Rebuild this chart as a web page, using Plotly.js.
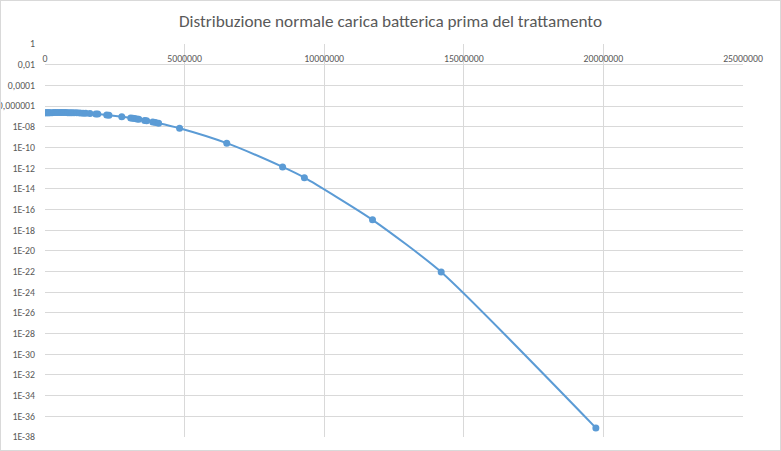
<!DOCTYPE html>
<html>
<head>
<meta charset="utf-8">
<script src="https://cdn.plot.ly/plotly-3.0.1.min.js"></script>
<style>
html,body{margin:0;padding:0;background:#fff;}
#chart{width:779px;height:449px;border:1px solid #d9d9d9;}
</style>
</head>
<body>
<div id="chart"></div>
<script>
// Carica batterica (x) and normal density (y)
const caricaX = [0, 36000, 71000, 107000, 143000, 179000, 250000, 320000, 390000, 460000,
  540000, 610000, 680000, 750000, 820000, 890000, 960000, 1040000, 1140000, 1250000,
  1360000, 1460000, 1610000, 1820000, 1890000, 2210000, 2290000, 2750000, 3070000, 3140000,
  3210000, 3290000, 3360000, 3570000, 3640000, 3860000, 3960000, 4070000,
  4820000, 6510000, 8510000, 9290000, 11730000, 14190000, 19730000];
const densita = [2.21e-7, 2.23e-7, 2.24e-7, 2.26e-7, 2.27e-7, 2.29e-7, 2.31e-7, 2.32e-7, 2.33e-7, 2.34e-7,
  2.34e-7, 2.34e-7, 2.34e-7, 2.33e-7, 2.31e-7, 2.29e-7, 2.27e-7, 2.24e-7, 2.19e-7, 2.13e-7,
  2.07e-7, 2.0e-7, 1.89e-7, 1.72e-7, 1.66e-7, 1.39e-7, 1.32e-7, 9.3e-8, 7.0e-8, 6.5e-8,
  6.1e-8, 5.6e-8, 5.2e-8, 4.1e-8, 3.8e-8, 2.9e-8, 2.5e-8, 2.2e-8,
  7.2e-9, 2.6e-10, 1.3e-12, 1.2e-13, 1.0e-17, 8.9e-23, 7.6e-38];

const xTickVals = [0, 5000000, 10000000, 15000000, 20000000, 25000000];
const xTickText = ['0', '5000000', '10000000', '15000000', '20000000', '25000000'];
const yTickVals = [1, 1e-2, 1e-4, 1e-6, 1e-8, 1e-10, 1e-12, 1e-14, 1e-16, 1e-18, 1e-20,
  1e-22, 1e-24, 1e-26, 1e-28, 1e-30, 1e-32, 1e-34, 1e-36, 1e-38];
const yTickText = ['1', '0,01', '0,0001', '0,000001', '1E-08', '1E-10', '1E-12', '1E-14', '1E-16',
  '1E-18', '1E-20', '1E-22', '1E-24', '1E-26', '1E-28', '1E-30', '1E-32', '1E-34', '1E-36', '1E-38'];
const titolo = 'Distribuzione normale carica batterica prima del trattamento';

const blue = '#5b9bd5';
const grid = '#d9d9d9';
const txt = '#595959';
const fam = "Calibri, Carlito, 'Open Sans', sans-serif";

const trace = {
  x: caricaX, y: densita, type: 'scatter', mode: 'lines+markers',
  line: {color: blue, width: 2, shape: 'spline', smoothing: 0.6},
  marker: {color: blue, size: 7},
  hoverinfo: 'x+y'
};

const layout = {
  width: 779, height: 449,
  margin: {l: 44, r: 37, t: 43, b: 13},
  paper_bgcolor: '#fff', plot_bgcolor: '#fff',
  showlegend: false,
  title: {text: titolo, font: {family: fam, size: 17.2, color: txt}, x: 0.5, xanchor: 'center', y: 0.955, yanchor: 'middle'},
  xaxis: {
    range: [0, 25000000], tickmode: 'array', tickvals: xTickVals, ticktext: xTickText,
    showgrid: true, gridcolor: grid, gridwidth: 1, zeroline: false, showline: false,
    anchor: 'free', position: 1, side: 'bottom',
    ticks: 'outside', ticklen: 5, tickcolor: 'rgba(0,0,0,0)',
    tickfont: {family: fam, size: 9.8, color: txt}
  },
  yaxis: {
    type: 'log', range: [-38, 0], tickmode: 'array', tickvals: yTickVals, ticktext: yTickText,
    showgrid: true, gridcolor: grid, gridwidth: 1, zeroline: false, showline: false,
    ticks: 'outside', ticklen: 7, tickcolor: 'rgba(0,0,0,0)',
    tickfont: {family: fam, size: 9.8, color: txt}
  }
};

Plotly.newPlot('chart', [trace], layout, {displayModeBar: false, staticPlot: true});
</script>
</body>
</html>
